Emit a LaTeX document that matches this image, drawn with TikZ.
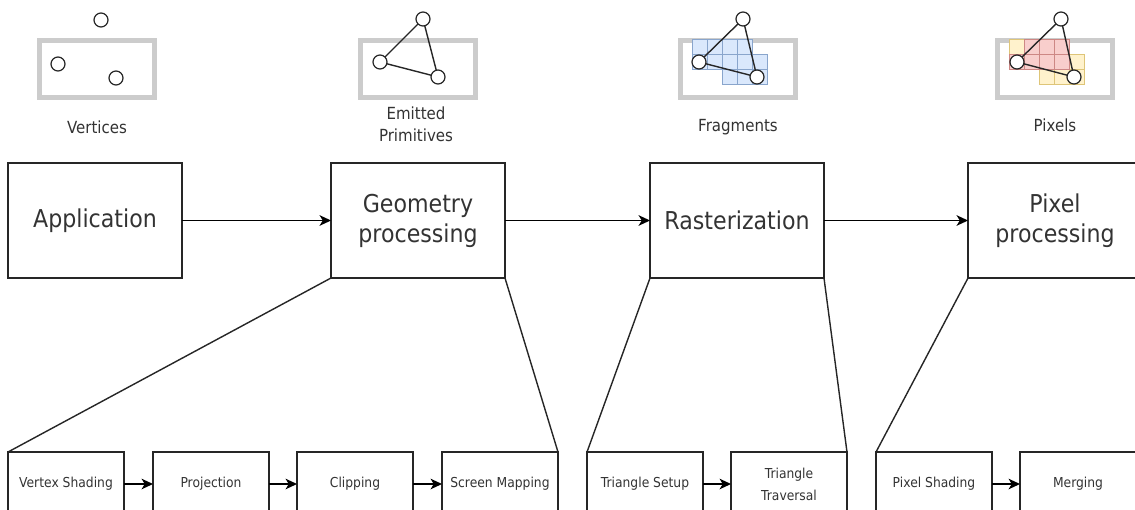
\documentclass[tikz,border=0pt]{standalone}
\usepackage{fontspec}
\setmainfont{DejaVu Sans}[FakeStretch=0.9]
\usepackage{tikz}
\usetikzlibrary{positioning,arrows.meta}
\definecolor{cellblue}{HTML}{DAE8FC}
\definecolor{lineblue}{HTML}{6C8EBF}
\definecolor{cellred}{HTML}{F8CECC}
\definecolor{linered}{HTML}{B85450}
\definecolor{cellyellow}{HTML}{FFF2CC}
\definecolor{lineyellow}{HTML}{D6B656}

\begin{document}
\begin{tikzpicture}[
  x=0.02cm, y=-0.02cm,
  stage/.style={draw=black!85, line width=0.8pt, outer sep=0pt, align=center,
                minimum width=3.48cm, minimum height=2.3cm, text=black!80,
                font=\fontsize{14}{17}\selectfont},
  substage/.style={draw=black!85, line width=0.8pt, outer sep=0pt, align=center,
                minimum width=2.32cm, minimum height=1.28cm, text=black!80,
                font=\fontsize{7.8}{12.5}\selectfont},
  iconlabel/.style={align=center, anchor=base, text=black!80,
                    font=\fontsize{9.5}{12}\selectfont},
  arr/.style={-{Stealth[length=6.5pt, width=6pt, inset=1.8pt]}, line width=0.9pt},
  funnel/.style={line width=0.8pt, black!85},
  frame/.style={draw=black!20, line width=2.8pt},
  vtx/.style={circle, draw=black!85, fill=white, line width=0.7pt,
              minimum size=0.28cm, inner sep=0pt},
  tri/.style={line width=0.8pt, black!85},
  bcell/.style={fill=cellblue, draw=lineblue!80, line width=0.4pt},
  rcell/.style={fill=cellred, draw=linered!70, line width=0.4pt},
  ycell/.style={fill=cellyellow, draw=lineyellow!80, line width=0.4pt}
]
\useasboundingbox (0,0) rectangle (1135,510);
\clip (0,0) rectangle (1135,510);

% ---- icons (top row) ----
% vertices
\draw[frame] (39.5,40.5) rectangle (154.5,97.5);
\node[vtx] (va) at (101,20) {};
\node[vtx] (vb) at (58,64) {};
\node[vtx] (vc) at (116,78) {};
\node[iconlabel] (vlbl) at (97,133) {Vertices};
% emitted primitives
\draw[frame] (360.5,40.5) rectangle (475.5,97.5);
\draw[tri] (423,19) -- (380,62) -- (438,77) -- cycle;
\node[vtx] (ea) at (423,19) {};
\node[vtx] (eb) at (380,62) {};
\node[vtx] (ec) at (438,77) {};
\node[iconlabel] (elbl) at (416,141) {Emitted\\Primitives};
% fragments
\draw[frame] (680.5,40.5) rectangle (795.5,97.5);
\foreach \c/\r in {0/0,1/0,2/0,3/0,0/1,1/1,2/1,3/1,4/1,2/2,3/2,4/2}
  \draw[bcell] (692+\c*15,39+\r*15) rectangle ++(15,15);
\draw[tri] (743,19) -- (699,62) -- (757,77) -- cycle;
\node[vtx] (fa) at (743,19) {};
\node[vtx] (fb) at (699,62) {};
\node[vtx] (fc) at (757,77) {};
\node[iconlabel] (flbl) at (738,132) {Fragments};
% pixels
\draw[frame] (997.5,40.5) rectangle (1112.5,97.5);
\foreach \c/\r in {0/0,4/1,2/2,3/2,4/2}
  \draw[ycell] (1009+\c*15,39+\r*15) rectangle ++(15,15);
\foreach \c/\r in {1/0,2/0,3/0,0/1,1/1,2/1,3/1}
  \draw[rcell] (1009+\c*15,39+\r*15) rectangle ++(15,15);
\draw[tri] (1061,19) -- (1017,62) -- (1074,77) -- cycle;
\node[vtx] (pa) at (1061,19) {};
\node[vtx] (pb) at (1017,62) {};
\node[vtx] (pc) at (1074,77) {};
\node[iconlabel] (plbl) at (1055,132) {Pixels};

% ---- pipeline stages ----
\node[stage] (app) at (95,220.5)   {Application};
\node[stage] (geo) at (418,220.5)  {Geometry\\processing};
\node[stage] (ras) at (737,220.5)  {Rasterization};
\node[stage] (pix) at (1055,220.5) {Pixel\\processing};
\draw[arr] (app) -- (geo);
\draw[arr] (geo) -- (ras);
\draw[arr] (ras) -- (pix);

% ---- sub stages ----
\node[substage] (vs)   at (66,484)   {Vertex Shading};
\node[substage] (proj) at (211,484)  {Projection};
\node[substage] (clip) at (355,484)  {Clipping};
\node[substage] (sm)   at (500,484)  {Screen Mapping};
\node[substage] (ts)   at (645,484)  {Triangle Setup};
\node[substage] (tt)   at (789,484)  {Triangle\\Traversal};
\node[substage] (ps)   at (934,484)  {Pixel Shading};
\node[substage] (mg)   at (1078,484) {Merging};
\draw[arr] (vs) -- (proj);
\draw[arr] (proj) -- (clip);
\draw[arr] (clip) -- (sm);
\draw[arr] (ts) -- (tt);
\draw[arr] (ps) -- (mg);

% ---- zoom lines ----
\draw[funnel] (geo.south west) -- (vs.north west);
\draw[funnel] (geo.south east) -- (sm.north east);
\draw[funnel] (ras.south west) -- (ts.north west);
\draw[funnel] (ras.south east) -- (tt.north east);
\draw[funnel] (pix.south west) -- (ps.north west);
\draw[funnel] (pix.south east) -- (mg.north east);
\end{tikzpicture}
\end{document}
